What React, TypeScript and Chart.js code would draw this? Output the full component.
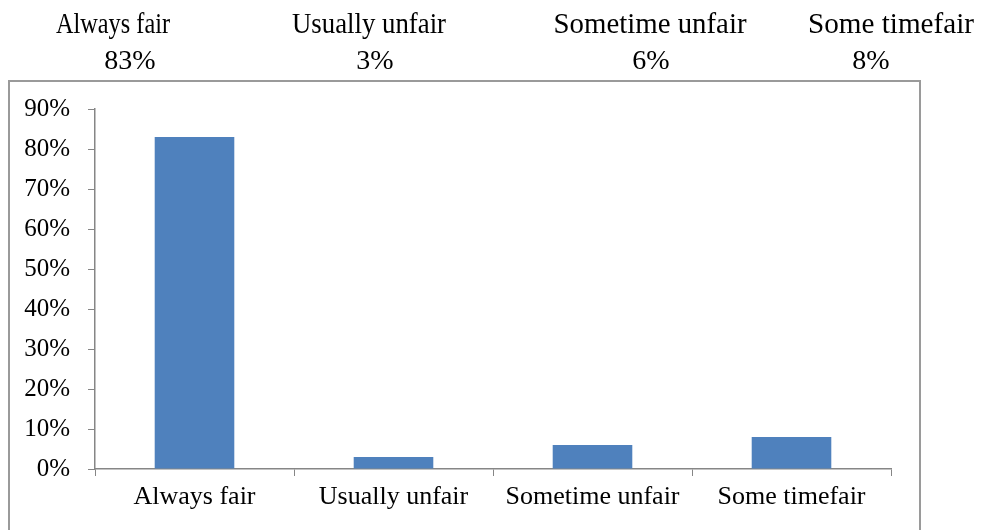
import React, { useEffect, useRef } from "react";
import { Chart, registerables } from "chart.js";

Chart.register(...registerables);

const categories = ["Always fair", "Usually unfair", "Sometime unfair", "Some timefair"];
const values = [83, 3, 6, 8];
const headerPercents = ["83%", "3%", "6%", "8%"];
const yTicks = [0, 10, 20, 30, 40, 50, 60, 70, 80, 90];

// layout of the header table (canvas px)
const headerLabelX = [105, 361, 642, 883];
const headerLabelW = [114, 154, 193, 166];
const headerPctX = [122, 367, 643, 863];

const FONT = "'Liberation Serif', 'Times New Roman', serif";

const framePlugin = {
  id: "frame",
  afterDraw(chart: any) {
    const ctx = chart.ctx;
    ctx.save();
    ctx.strokeStyle = "#9a9a9a";
    ctx.lineWidth = 2;
    ctx.strokeRect(1, 73, 911, 520);
    ctx.fillStyle = "#000";
    ctx.textAlign = "center";
    ctx.textBaseline = "alphabetic";
    categories.forEach((c, i) => {
      ctx.save();
      ctx.font = `29px ${FONT}`;
      const w = ctx.measureText(c).width;
      ctx.translate(headerLabelX[i], 25);
      ctx.scale(headerLabelW[i] / w, 1);
      ctx.fillText(c, 0, 0);
      ctx.restore();
      ctx.font = `28px ${FONT}`;
      ctx.fillText(headerPercents[i], headerPctX[i], 61);
    });
    ctx.restore();
  },
};

export default function App() {
  const ref = useRef<HTMLCanvasElement>(null);
  useEffect(() => {
    if (!ref.current) return;
    const chart = new Chart(ref.current, {
      type: "bar",
      data: {
        labels: categories,
        datasets: [
          {
            data: values,
            backgroundColor: "#4F81BD",
            categoryPercentage: 0.4,
            barPercentage: 1,
          },
        ],
      },
      options: {
        animation: false,
        responsive: false,
        maintainAspectRatio: false,
        layout: { padding: { top: 101, right: 91, left: 0, bottom: 0 } },
        plugins: { legend: { display: false }, tooltip: { enabled: false } },
        scales: {
          x: {
            grid: { drawOnChartArea: false, color: "#868686", tickLength: 7, offset: true },
            border: { color: "#868686", width: 1.5 },
            ticks: {
              color: "#000",
              font: { family: FONT, size: 26 },
              padding: 6,
              maxRotation: 0,
            },
            afterFit(scale: any) {
              scale.height = 61;
            },
          },
          y: {
            min: 0,
            max: 90,
            afterBuildTicks(scale: any) {
              scale.ticks = yTicks.map((v) => ({ value: v }));
            },
            grid: { drawOnChartArea: false, color: "#868686", tickLength: 7 },
            border: { color: "#868686", width: 1.5 },
            ticks: {
              color: "#000",
              font: { family: FONT, size: 25 },
              padding: 18,
              callback: (v: any) => `${v}%`,
            },
            afterFit(scale: any) {
              scale.width = 87;
            },
          },
        },
      },
      plugins: [framePlugin],
    });
    return () => chart.destroy();
  }, []);
  return (
    <div style={{ width: 974, height: 522 }}>
      <canvas ref={ref} width={974} height={522} style={{ display: "block" }} />
    </div>
  );
}
